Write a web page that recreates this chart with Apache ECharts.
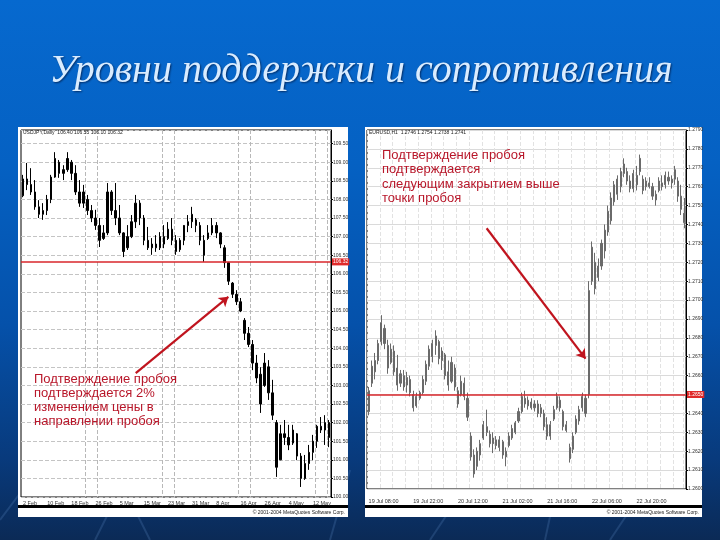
<!DOCTYPE html>
<html><head><meta charset="utf-8">
<script src="https://cdn.jsdelivr.net/npm/echarts/dist/echarts.min.js"></script>
<style>html,body{margin:0;padding:0;background:#0558b5}#c{width:720px;height:540px}</style>
</head><body><div id="c"></div>
<script>
const titleText = 'Уровни поддержки и сопротивления';
const leftNote = ['Подтверждение пробоя', 'подтверждается 2%', 'изменением цены в', 'направлении пробоя'];
const rightNote = ['Подтверждение пробоя', 'подтверждается', 'следующим закрытием выше', 'точки пробоя'];

// Left chart (daily)
const leftOpen = [108.10,108.55,108.40,108.20,107.80,107.60,107.70,108.00,108.60,109.00,
 108.70,108.80,109.00,108.70,108.20,107.90,108.00,107.70,107.50,107.30,
 106.95,107.10,108.20,107.70,107.50,107.10,106.70,107.00,107.40,107.90,
 107.50,106.90,106.70,106.80,106.70,107.00,106.95,107.20,106.90,106.65,
 106.90,107.30,107.40,107.45,107.30,106.90,106.95,107.10,107.30,107.10,
 106.70,106.30,105.75,105.45,105.25,104.75,104.40,104.10,103.60,103.30,
 103.00,103.50,102.80,102.00,101.00,101.70,101.60,101.45,101.70,101.10,
 100.50,100.90,101.20,101.50,101.90,101.80,102.00];
const leftClose = [108.55,108.40,108.20,107.80,107.60,107.70,108.00,108.60,109.10,108.70,
 108.80,109.10,108.70,108.20,107.90,108.20,107.70,107.50,107.30,106.90,
 107.10,108.20,107.70,107.50,107.10,106.60,107.00,107.40,107.90,107.50,
 106.90,106.70,106.80,106.70,107.00,106.80,107.20,106.90,106.60,106.90,
 107.30,107.40,107.60,107.30,106.90,106.50,107.10,107.30,107.10,106.80,
 106.30,105.80,105.45,105.25,105.00,104.40,104.10,103.60,103.20,102.50,
 103.60,102.80,102.20,100.80,101.70,101.60,101.40,101.80,101.10,100.50,
 100.90,101.20,101.50,101.90,101.80,102.00,101.60];
const leftLow = [108.06,108.25,108.12,107.72,107.50,107.45,107.58,107.90,108.58,108.58,
 108.52,108.74,108.52,108.12,107.80,107.77,107.58,107.39,107.18,106.72,
 106.91,107.04,107.58,107.31,107.04,106.45,106.64,106.96,107.23,107.31,
 106.77,106.64,106.51,106.59,106.64,106.69,106.91,106.77,106.51,106.59,
 106.77,107.12,107.23,107.12,106.77,106.32,106.91,107.04,106.96,106.69,
 106.16,105.70,105.35,105.16,104.97,104.22,104.03,103.41,103.06,102.26,
 102.96,102.61,102.07,100.54,100.99,101.40,101.26,101.40,100.99,100.27,
 100.46,100.73,100.99,101.32,101.72,101.40,101.34];
const leftHigh = [108.66,108.98,108.84,108.52,107.98,107.90,108.12,108.66,109.27,109.06,
 108.92,109.27,109.06,108.92,108.52,108.39,108.12,107.85,107.72,107.50,
 107.31,108.44,108.25,108.44,107.85,107.12,107.31,107.58,108.12,107.98,
 107.58,107.26,106.96,107.04,107.12,107.31,107.39,107.50,107.04,106.96,
 107.31,107.58,107.80,107.50,107.39,107.04,107.31,107.50,107.39,107.12,
 106.77,106.32,105.78,105.56,105.35,104.81,104.57,104.22,103.82,103.49,
 103.87,103.68,103.15,102.07,101.94,102.07,101.94,101.94,101.72,101.18,
 101.13,101.40,101.67,101.94,102.15,102.20,102.07];
const leftDates = ['2 Feb','10 Feb','18 Feb','26 Feb','5 Mar','15 Mar','23 Mar','31 Mar','8 Apr','16 Apr','26 Apr','4 May','12 May'];
const leftLevel = 106.32;
const leftArrowFrom = [28, 103.33];
const leftArrowTo = [51, 105.38];

// Right chart (hourly)
const rightOpen = [1.2641,1.2656,1.2662,1.2668,1.2678,1.2685,1.2676,1.2667,1.2673,1.2664,
 1.2656,1.2660,1.2655,1.2658,1.2650,1.2644,1.2648,1.2651,1.2657,1.2665,
 1.2670,1.2676,1.2678,1.2668,1.2671,1.2662,1.2657,1.2664,1.2652,1.2650,
 1.2656,1.2648,1.2628,1.2618,1.2612,1.2618,1.2627,1.2633,1.2629,1.2624,
 1.2626,1.2622,1.2625,1.2617,1.2623,1.2627,1.2630,1.2636,1.2641,1.2648,
 1.2644,1.2646,1.2643,1.2645,1.2640,1.2640,1.2634,1.2628,1.2637,1.2643,
 1.2647,1.2641,1.2634,1.2622,1.2621,1.2630,1.2636,1.2643,1.2640,1.2650,
 1.2710,1.2720,1.2712,1.2718,1.2726,1.2736,1.2742,1.2752,1.2756,1.2760,
 1.2767,1.2768,1.2763,1.2759,1.2766,1.2768,1.2764,1.2760,1.2762,1.2760,
 1.2753,1.2758,1.2762,1.2761,1.2765,1.2762,1.2764,1.2763,1.2755,1.2746];
const rightClose = [1.2652,1.2665,1.2668,1.2677,1.2688,1.2677,1.2664,1.2674,1.2662,1.2655,
 1.2661,1.2654,1.2659,1.2651,1.2643,1.2649,1.2651,1.2658,1.2666,1.2674,
 1.2677,1.2681,1.2669,1.2673,1.2660,1.2655,1.2667,1.2654,1.2645,1.2657,
 1.2649,1.2638,1.2617,1.2608,1.2620,1.2624,1.2634,1.2630,1.2624,1.2627,
 1.2623,1.2626,1.2618,1.2620,1.2628,1.2632,1.2635,1.2641,1.2649,1.2645,
 1.2647,1.2643,1.2645,1.2640,1.2643,1.2633,1.2628,1.2634,1.2642,1.2649,
 1.2643,1.2633,1.2631,1.2616,1.2628,1.2637,1.2642,1.2649,1.2648,1.2705,
 1.2728,1.2706,1.2718,1.2730,1.2737,1.2747,1.2754,1.2761,1.2764,1.2768,
 1.2772,1.2763,1.2759,1.2767,1.2761,1.2775,1.2758,1.2763,1.2760,1.2755,
 1.2756,1.2763,1.2760,1.2766,1.2763,1.2764,1.2769,1.2755,1.2748,1.2741];
const rightLow = [1.2639,1.2654,1.2658,1.2666,1.2676,1.2674,1.2661,1.2666,1.2660,1.2652,
 1.2654,1.2652,1.2651,1.2649,1.2641,1.2643,1.2647,1.2650,1.2655,1.2663,
 1.2667,1.2671,1.2666,1.2663,1.2658,1.2652,1.2656,1.2652,1.2643,1.2649,
 1.2647,1.2636,1.2615,1.2606,1.2610,1.2615,1.2626,1.2628,1.2622,1.2619,
 1.2621,1.2620,1.2616,1.2612,1.2622,1.2626,1.2629,1.2635,1.2640,1.2643,
 1.2642,1.2642,1.2641,1.2638,1.2638,1.2631,1.2626,1.2626,1.2636,1.2642,
 1.2641,1.2631,1.2630,1.2614,1.2619,1.2629,1.2634,1.2641,1.2638,1.2648,
 1.2708,1.2703,1.2710,1.2716,1.2722,1.2734,1.2740,1.2750,1.2753,1.2757,
 1.2765,1.2761,1.2757,1.2757,1.2758,1.2766,1.2756,1.2758,1.2759,1.2753,
 1.2750,1.2757,1.2758,1.2759,1.2761,1.2759,1.2761,1.2752,1.2745,1.2738];
const rightHigh = [1.2654,1.2668,1.2672,1.2679,1.2692,1.2687,1.2679,1.2677,1.2676,1.2671,
 1.2663,1.2663,1.2662,1.2660,1.2652,1.2651,1.2652,1.2660,1.2668,1.2676,
 1.2679,1.2684,1.2679,1.2675,1.2672,1.2668,1.2670,1.2666,1.2654,1.2660,
 1.2659,1.2651,1.2630,1.2621,1.2622,1.2626,1.2636,1.2642,1.2631,1.2630,
 1.2628,1.2628,1.2626,1.2622,1.2630,1.2634,1.2636,1.2643,1.2651,1.2652,
 1.2649,1.2648,1.2647,1.2647,1.2645,1.2642,1.2638,1.2636,1.2644,1.2651,
 1.2649,1.2642,1.2636,1.2624,1.2630,1.2639,1.2644,1.2651,1.2650,1.2710,
 1.2731,1.2725,1.2722,1.2732,1.2740,1.2750,1.2757,1.2763,1.2766,1.2770,
 1.2775,1.2770,1.2766,1.2769,1.2771,1.2777,1.2766,1.2765,1.2765,1.2762,
 1.2758,1.2765,1.2766,1.2768,1.2768,1.2766,1.2771,1.2765,1.2761,1.2754];
const rightDates = ['19 Jul 08:00','19 Jul 22:00','20 Jul 12:00','21 Jul 02:00','21 Jul 16:00','22 Jul 06:00','22 Jul 20:00'];
const rightLevel = 1.2650;
const rightArrowFrom = [37, 1.2738];
const rightArrowTo = [68, 1.2669];

const leftCats = leftHigh.map((_, i) => String(i));
const rightCats = rightHigh.map((_, i) => String(i));
const leftOHLC = leftOpen.map((o, i) => [o, leftClose[i], leftLow[i], leftHigh[i]]);
const rightOHLC = rightOpen.map((o, i) => [o, rightClose[i], rightLow[i], rightHigh[i]]);

const chart = echarts.init(document.getElementById('c'), null, {renderer: 'canvas', width: 720, height: 540});
const G = echarts.graphic;
const bg = new G.LinearGradient(0, 0, 0, 1, [
  {offset: 0, color: '#0669cf'}, {offset: 0.3, color: '#0561c3'},
  {offset: 0.6, color: '#0551aa'}, {offset: 0.85, color: '#083a7c'}, {offset: 1, color: '#0b2a56'}
]);
const deco = [[95,540,130,470],[150,540,120,480],[330,540,350,470],[430,540,470,480],[545,540,560,470],[610,540,650,480],[0,520,30,480]];

function markLine(level, digits, from, to) {
  return {
    silent: true, animation: false, precision: digits, symbol: ['none', 'none'], symbolSize: 9,
    label: {show: false},
    data: [
      {yAxis: level,
       lineStyle: {color: '#d8262b', width: 1.6, type: 'solid'},
       label: {show: true, position: 'end', distance: 1, formatter: level.toFixed(digits),
               backgroundColor: '#e02a2a', color: '#fff', fontSize: 5, padding: [1, 1]}},
      [{coord: from, symbol: 'none', lineStyle: {color: '#c0141e', width: 2.2, type: 'solid'}, label: {show: false}},
       {coord: to, symbol: 'arrow', symbolSize: 9}]
    ]
  };
}

chart.setOption({
  animation: false,
  graphic: {elements: [
    {type: 'rect', z: -100, shape: {x: 0, y: 0, width: 720, height: 540}, style: {fill: bg}},
    ...deco.map(d => ({type: 'line', z: -90, shape: {x1: d[0], y1: d[1], x2: d[2], y2: d[3]},
      style: {stroke: 'rgba(120,170,235,0.18)', lineWidth: 2}})),
    {type: 'text', z: 100, x: 361, y: 71,
     style: {text: titleText, fontFamily: '"Liberation Serif", "DejaVu Serif", serif', fontStyle: 'italic',
             fontSize: 40, fill: '#d9ecff', textAlign: 'center', textVerticalAlign: 'middle',
             textShadowColor: 'rgba(0,20,60,0.7)', textShadowBlur: 2, textShadowOffsetX: 1, textShadowOffsetY: 1}},
    {type: 'rect', z: -50, shape: {x: 18, y: 127, width: 330, height: 390}, style: {fill: '#ffffff'}},
    {type: 'rect', z: -50, shape: {x: 365, y: 127, width: 337, height: 390}, style: {fill: '#ffffff'}},
    {type: 'rect', z: -40, shape: {x: 18, y: 505, width: 330, height: 3}, style: {fill: '#000'}},
    {type: 'rect', z: -40, shape: {x: 365, y: 505, width: 337, height: 3}, style: {fill: '#000'}},
    {type: 'text', z: 100, x: 345, y: 513, style: {text: '© 2001-2004 MetaQuotes Software Corp.', fontSize: 5, fill: '#222', textAlign: 'right', textVerticalAlign: 'middle'}},
    {type: 'text', z: 100, x: 699, y: 513, style: {text: '© 2001-2004 MetaQuotes Software Corp.', fontSize: 5, fill: '#222', textAlign: 'right', textVerticalAlign: 'middle'}},
    {type: 'text', z: 100, x: 23, y: 133, style: {text: 'USDJPY,Daily  106.40 106.55 106.10 106.32', fontSize: 5, fill: '#222', textVerticalAlign: 'middle'}},
    {type: 'text', z: 100, x: 369, y: 133, style: {text: 'EURUSD,H1  1.2746 1.2754 1.2738 1.2741', fontSize: 5, fill: '#222', textVerticalAlign: 'middle'}},
    {type: 'text', z: 100, x: 34, y: 372,
     style: {text: leftNote.join('\n'), fontFamily: '"Liberation Sans", Arial, sans-serif', fontSize: 13, lineHeight: 14, fill: '#b8172a'}},
    {type: 'text', z: 100, x: 382, y: 148,
     style: {text: rightNote.join('\n'), fontFamily: '"Liberation Sans", Arial, sans-serif', fontSize: 13, lineHeight: 14.5, fill: '#b8172a'}}
  ]},
  grid: [
    {left: 21, top: 130, width: 310, height: 367, show: true, backgroundColor: '#fff', borderColor: '#000', borderWidth: 1},
    {left: 367, top: 130, width: 319, height: 359, show: true, backgroundColor: '#fff', borderColor: '#000', borderWidth: 1}
  ],
  xAxis: [
    {gridIndex: 0, type: 'category', data: leftCats, boundaryGap: true,
     axisLine: {show: false}, axisTick: {show: false},
     axisLabel: {interval: 0, fontSize: 5.5, color: '#333', margin: 3, align: 'left',
       formatter: (v, i) => (i % 6 === 0 ? (leftDates[i / 6] || '') : '')},
     splitLine: {show: true, interval: (i) => i % 19 === 16 || (i > 0 && i % 19 === 0),
       lineStyle: {color: '#b8b8b8', type: 'dashed', width: 1}}},
    {gridIndex: 1, type: 'category', data: rightCats, boundaryGap: true,
     axisLine: {show: false}, axisTick: {show: false},
     axisLabel: {interval: 0, fontSize: 5.5, color: '#333', margin: 9, align: 'left',
       formatter: (v, i) => (i % 14 === 0 ? (rightDates[i / 14] || '') : '')},
     splitLine: {show: true, interval: 3, lineStyle: {color: '#e2e2e2', type: 'dashed', width: 1}}}
  ],
  yAxis: [
    {gridIndex: 0, type: 'value', position: 'right', min: 100, max: 109.866, interval: 0.5,
     axisLine: {show: true, lineStyle: {color: '#000'}}, axisTick: {show: true, length: 2, lineStyle: {color: '#000'}},
     axisLabel: {fontSize: 5, color: '#333', margin: 2, showMaxLabel: false, formatter: v => v.toFixed(2)},
     splitLine: {show: true, lineStyle: {color: '#c4c4c4', type: 'dashed'}}},
    {gridIndex: 1, type: 'value', position: 'right', min: 1.26, max: 1.279, interval: 0.001,
     axisLine: {show: true, lineStyle: {color: '#000'}}, axisTick: {show: true, length: 2, lineStyle: {color: '#000'}},
     axisLabel: {fontSize: 5, color: '#333', margin: 2, formatter: v => v.toFixed(4)},
     splitLine: {show: true, lineStyle: {color: '#dadada', type: 'solid'}}}
  ],
  series: [
    {type: 'candlestick', xAxisIndex: 0, yAxisIndex: 0, data: leftOHLC, barWidth: 2,
     itemStyle: {color: '#000', color0: '#000', borderColor: '#000', borderColor0: '#000', borderWidth: 1},
     markLine: markLine(leftLevel, 2, leftArrowFrom, leftArrowTo)},
    {type: 'candlestick', xAxisIndex: 1, yAxisIndex: 1, data: rightOHLC, barWidth: 1.6,
     itemStyle: {color: '#6a6a6a', color0: '#6a6a6a', borderColor: '#6a6a6a', borderColor0: '#6a6a6a', borderWidth: 1},
     markLine: markLine(rightLevel, 4, rightArrowFrom, rightArrowTo)}
  ]
});
</script>
</body></html>
